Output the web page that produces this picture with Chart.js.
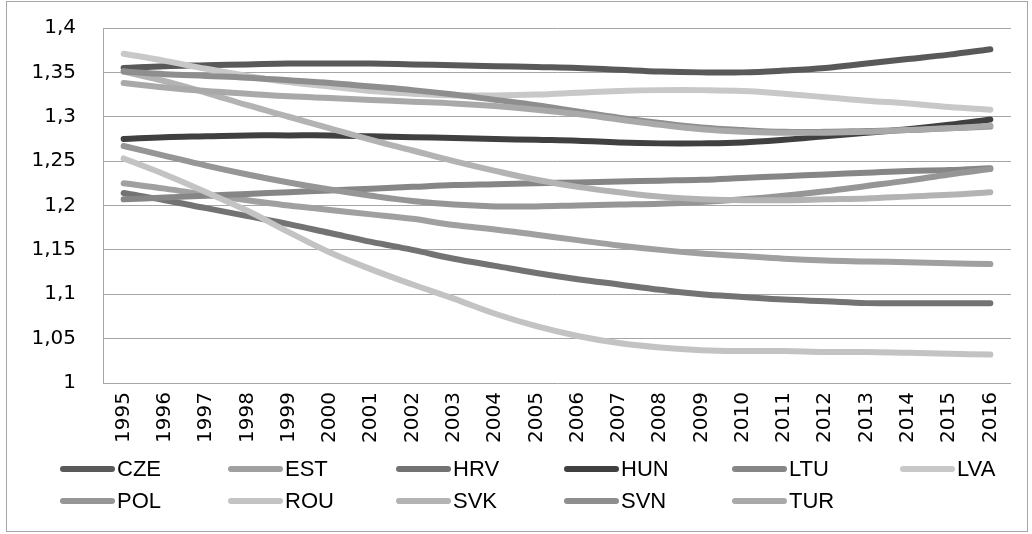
<!DOCTYPE html>
<html>
<head>
<meta charset="utf-8">
<script src="https://cdn.jsdelivr.net/npm/chart.js@4.4.0/dist/chart.umd.min.js"></script>
<style>
  html, body { margin: 0; padding: 0; background: #fff; }
  #wrap { position: relative; width: 1032px; height: 534px; }
</style>
</head>
<body>
<div id="wrap"><canvas id="c"></canvas></div>
<script>
const years = ['1995','1996','1997','1998','1999','2000','2001','2002','2003','2004','2005','2006','2007','2008','2009','2010','2011','2012','2013','2014','2015','2016'];
const yTicks = [1, 1.05, 1.1, 1.15, 1.2, 1.25, 1.3, 1.35, 1.4];

const seriesNames = ['CZE','EST','HRV','HUN','LTU','LVA','POL','ROU','SVK','SVN','TUR'];
const seriesColors = ['#595959','#a0a0a0','#737373','#404040','#868686','#c8c8c8','#969696','#c3c3c3','#b3b3b3','#8e8e8e','#a9a9a9'];

const CZE = [1.355,1.357,1.358,1.359,1.360,1.360,1.360,1.359,1.358,1.357,1.356,1.355,1.353,1.351,1.350,1.350,1.352,1.355,1.360,1.365,1.370,1.376];
const EST = [1.225,1.219,1.212,1.206,1.200,1.195,1.190,1.185,1.178,1.173,1.167,1.161,1.155,1.150,1.146,1.143,1.140,1.138,1.137,1.136,1.135,1.134];
const HRV = [1.214,1.206,1.197,1.188,1.179,1.169,1.159,1.150,1.140,1.132,1.124,1.117,1.111,1.105,1.100,1.097,1.094,1.092,1.090,1.090,1.090,1.090];
const HUN = [1.275,1.277,1.278,1.279,1.279,1.279,1.278,1.277,1.276,1.275,1.274,1.273,1.271,1.270,1.270,1.271,1.274,1.278,1.282,1.286,1.291,1.297];
const LTU = [1.207,1.209,1.211,1.213,1.215,1.217,1.219,1.221,1.223,1.224,1.225,1.226,1.227,1.228,1.229,1.231,1.233,1.235,1.237,1.239,1.240,1.242];
const LVA = [1.371,1.363,1.354,1.346,1.339,1.334,1.329,1.326,1.324,1.324,1.325,1.327,1.329,1.330,1.330,1.329,1.326,1.322,1.318,1.315,1.311,1.308];
const POL = [1.267,1.256,1.245,1.235,1.226,1.218,1.211,1.205,1.201,1.199,1.199,1.200,1.201,1.202,1.204,1.207,1.211,1.216,1.222,1.228,1.235,1.241];
const ROU = [1.253,1.235,1.215,1.194,1.170,1.147,1.128,1.111,1.095,1.078,1.064,1.053,1.045,1.040,1.037,1.036,1.036,1.035,1.035,1.034,1.033,1.032];
const SVK = [1.351,1.340,1.327,1.313,1.300,1.287,1.274,1.262,1.250,1.239,1.229,1.221,1.215,1.210,1.207,1.206,1.206,1.207,1.208,1.210,1.212,1.215];
const SVN = [1.351,1.348,1.346,1.344,1.341,1.338,1.334,1.330,1.325,1.319,1.313,1.306,1.299,1.293,1.288,1.285,1.283,1.283,1.284,1.285,1.287,1.289];
const TUR = [1.338,1.333,1.329,1.326,1.323,1.321,1.319,1.317,1.315,1.312,1.308,1.303,1.297,1.291,1.286,1.283,1.282,1.282,1.283,1.285,1.287,1.290];

const seriesValues = [CZE, EST, HRV, HUN, LTU, LVA, POL, ROU, SVK, SVN, TUR];

const datasets = seriesNames.map((name, i) => ({
  label: name,
  data: seriesValues[i],
  borderColor: seriesColors[i],
  backgroundColor: seriesColors[i],
  borderWidth: 6,
  borderCapStyle: 'round',
  borderJoinStyle: 'round',
  pointRadius: 0,
  pointHoverRadius: 0,
  tension: 0.4,
  fill: false,
  order: seriesNames.length - i
}));

const frameAndLegend = {
  id: 'frameAndLegend',
  beforeDraw(chart) {
    const ctx = chart.ctx;
    ctx.save();
    ctx.fillStyle = '#ffffff';
    ctx.fillRect(0, 0, chart.width, chart.height);
    ctx.strokeStyle = '#a6a6a6';
    ctx.lineWidth = 1;
    ctx.strokeRect(6.5, 1.5, 1021, 530);
    ctx.restore();
  },
  afterDraw(chart) {
    const ctx = chart.ctx;
    ctx.save();
    const cols = 6, colW = 168, x0 = 60, rowY = [469, 501], lineLen = 55;
    ctx.font = '22px "Liberation Sans Narrow", "Liberation Sans", sans-serif';
    ctx.textBaseline = 'middle';
    chart.data.datasets.forEach((ds, i) => {
      const col = i % cols, row = Math.floor(i / cols);
      const x = x0 + col * colW, y = rowY[row];
      ctx.strokeStyle = ds.borderColor;
      ctx.lineWidth = 6;
      ctx.lineCap = 'round';
      ctx.beginPath();
      ctx.moveTo(x + 3, y);
      ctx.lineTo(x + lineLen - 3, y);
      ctx.stroke();
      ctx.fillStyle = '#000000';
      ctx.fillText(ds.label, x + lineLen + 2, y + 1);
    });
    ctx.restore();
  }
};

function zeroPad(s) {
  s.paddingTop = 0; s.paddingBottom = 0; s.paddingLeft = 0; s.paddingRight = 0;
}

new Chart(document.getElementById('c'), {
  type: 'line',
  data: { labels: years, datasets },
  options: {
    responsive: true,
    maintainAspectRatio: false,
    devicePixelRatio: 1,
    animation: false,
    layout: { padding: { left: 0, top: 28, right: 21, bottom: 0 } },
    plugins: { legend: { display: false }, tooltip: { enabled: false } },
    scales: {
      x: {
        offset: true,
        grid: { display: false, drawTicks: false },
        border: { display: false },
        ticks: {
          autoSkip: false,
          maxRotation: 90,
          minRotation: 90,
          padding: 9,
          color: '#000',
          font: { family: '"DejaVu Sans", sans-serif', size: 20 }
        },
        afterFit(s) { s.height = 534 - 383; zeroPad(s); }
      },
      y: {
        min: 1,
        max: 1.4,
        afterBuildTicks(s) { s.ticks = yTicks.map(v => ({ value: v })); },
        grid: { color: '#a6a6a6', lineWidth: 1, drawTicks: false },
        border: { display: true, color: '#a6a6a6', width: 1 },
        ticks: {
          padding: 27,
          color: '#000',
          font: { family: '"DejaVu Sans", sans-serif', size: 20 },
          callback: v => String(Number(v.toFixed(2))).replace('.', ',')
        },
        afterFit(s) { s.width = 103; zeroPad(s); }
      }
    }
  },
  plugins: [frameAndLegend]
});
</script>
</body>
</html>
